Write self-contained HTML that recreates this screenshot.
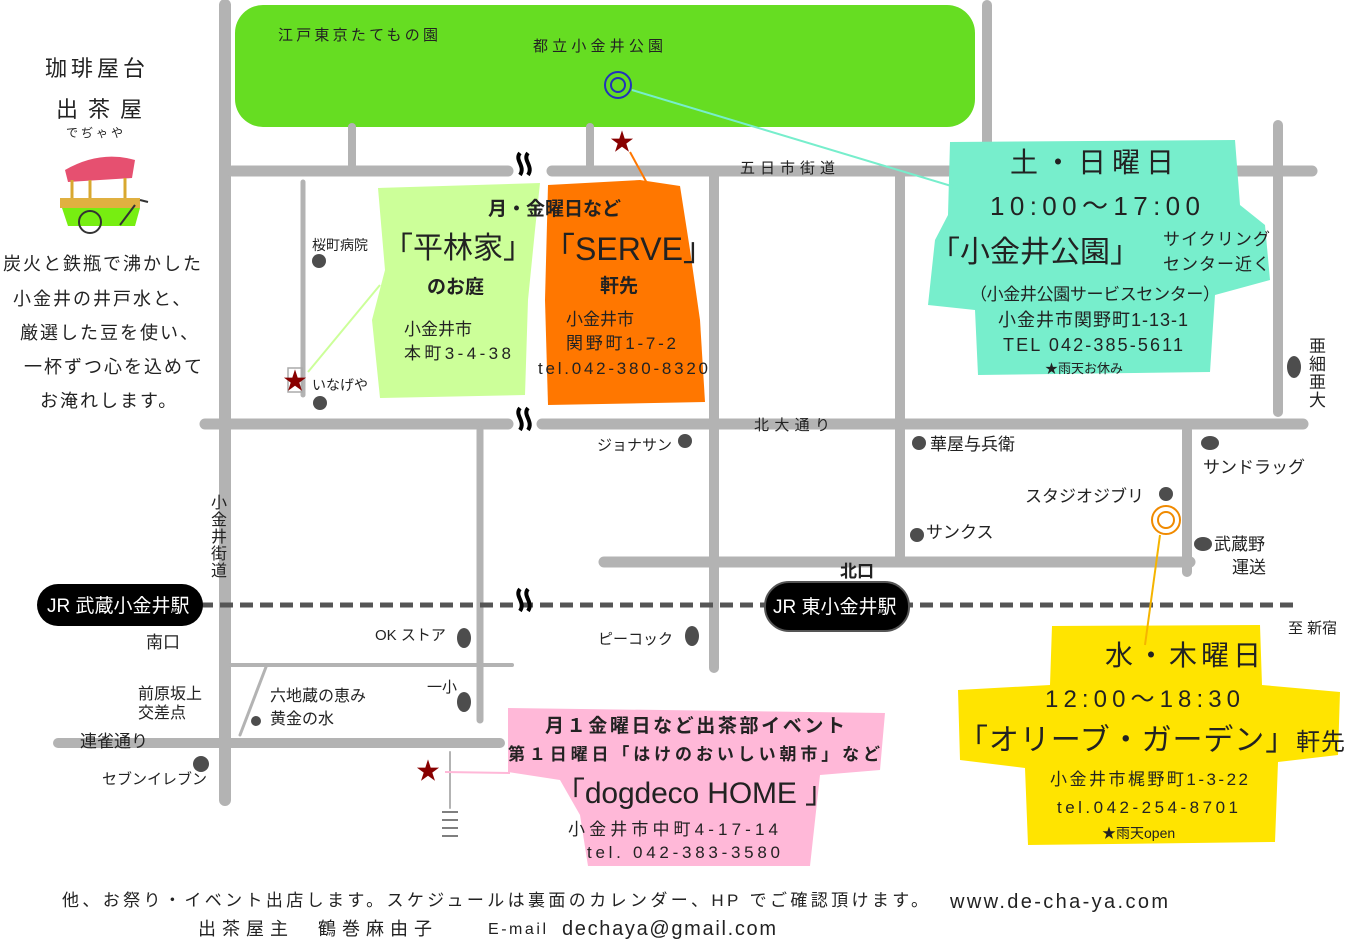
<!DOCTYPE html>
<html><head><meta charset="utf-8"><style>
html,body{margin:0;padding:0;background:#fff;}
svg{display:block;}
text{font-family:"Liberation Sans","Noto Sans CJK JP",sans-serif;fill:#222;}
</style></head><body>
<svg width="1346" height="948" viewBox="0 0 1346 948" xmlns="http://www.w3.org/2000/svg">
<rect x="235" y="5" width="740" height="122" rx="28" fill="#66dd22"/>
<g stroke="#b3b3b3" stroke-linecap="round" fill="none">
<path d="M225 5V800" stroke-width="12"/>
<path d="M987 5V170" stroke-width="10"/>
<path d="M352 127V165" stroke-width="8"/>
<path d="M590 127V165" stroke-width="8"/>
<path d="M232 171H508" stroke-width="11"/>
<path d="M552 171H1312" stroke-width="11"/>
<path d="M303 182V395" stroke-width="5"/>
<path d="M714 175V668" stroke-width="10"/>
<path d="M900 175V560" stroke-width="10"/>
<path d="M1278 125V412" stroke-width="10"/>
<path d="M205 424H508" stroke-width="11"/>
<path d="M542 424H1303" stroke-width="11"/>
<path d="M480 430V720" stroke-width="7"/>
<path d="M1187 430V572" stroke-width="10"/>
<path d="M604 562H1190" stroke-width="11"/>
<path d="M230 665H512" stroke-width="4"/>
<path d="M58 743H500" stroke-width="10"/>
<path d="M240 735L266 667" stroke-width="3"/>
<path d="M450 752V808" stroke-width="2"/>
</g>
<path d="M200 605H1300" stroke="#555" stroke-width="5" stroke-dasharray="13 7"/>
<g stroke="#000" stroke-width="4" fill="none">
<path d="M520 153c-6 7 6 13 0 22M528 153c-6 7 6 13 0 22"/>
<path d="M520 408c-6 7 6 13 0 22M528 408c-6 7 6 13 0 22"/>
<path d="M520 589c-6 7 6 13 0 22M528 589c-6 7 6 13 0 22"/>
</g>
<!-- blobs -->
<path d="M378 188L540 183L535 230L528 300L525 395L380 398L372 320L385 270Z" fill="#ccff99"/>
<path d="M548 185L640 180L680 186L690 250L700 320L705 402L548 405L545 300Z" fill="#ff7700"/>
<path d="M950 142L1235 140L1240 205L1265 225L1270 280L1215 295L1210 372L978 375L975 310L928 305L935 240L948 215Z" fill="#77eecc"/>
<path d="M1052 626L1260 625L1262 685L1340 692L1338 755L1278 762L1275 842L1028 845L1025 768L960 760L958 690L1050 685Z" fill="#ffe400"/>
<path d="M508 708L885 713L880 770L820 775L810 866L588 866L580 815L560 780L508 772Z" fill="#ffb8d8"/>
<!-- connectors -->
<path d="M308 372L380 285" stroke="#ccff99" stroke-width="2"/>
<path d="M630 152L648 185" stroke="#ff7700" stroke-width="2"/>
<path d="M632 90L958 188" stroke="#77eecc" stroke-width="2"/>
<path d="M1160 535L1145 645" stroke="#f5b400" stroke-width="2"/>
<path d="M445 772L510 773" stroke="#ffb8d8" stroke-width="2"/>
<circle cx="618" cy="85" r="13" fill="none" stroke="#2233bb" stroke-width="2"/>
<circle cx="618" cy="85" r="7" fill="none" stroke="#2233bb" stroke-width="2"/>
<circle cx="1166" cy="520" r="14" fill="none" stroke="#f08a00" stroke-width="2"/>
<circle cx="1166" cy="520" r="8" fill="none" stroke="#f08a00" stroke-width="2"/>
<rect x="288" y="368" width="14" height="24" fill="none" stroke="#aaa" stroke-width="1.5"/>
<g font-size="24">
<text x="283" y="389" style="fill:#880000">★</text>
<text x="610" y="150" style="fill:#880000">★</text>
<text x="416" y="779" style="fill:#880000">★</text>
</g>
<g stroke="#555" stroke-width="1.5"><path d="M442 812H458M442 820H458M442 828H458M442 836H458"/></g>
<!-- dots -->
<g fill="#4d4d4d">
<circle cx="319" cy="261" r="7"/><circle cx="320" cy="403" r="7"/>
<circle cx="685" cy="441" r="7"/><circle cx="919" cy="443" r="7"/>
<ellipse cx="1210" cy="443" rx="9" ry="7"/><circle cx="1166" cy="494" r="7"/>
<circle cx="917" cy="535" r="7"/><ellipse cx="1203" cy="544" rx="9" ry="7"/>
<ellipse cx="464" cy="638" rx="7" ry="10"/><ellipse cx="692" cy="636" rx="7" ry="10"/>
<ellipse cx="464" cy="702" rx="7" ry="10"/><circle cx="256" cy="721" r="5"/>
<circle cx="201" cy="764" r="8"/><ellipse cx="1294" cy="367" rx="7" ry="11"/>
</g>
<!-- stations -->
<rect x="37" y="584" width="166" height="42" rx="21" fill="#000"/>
<text x="47" y="612" font-size="19" style="fill:#fff">JR 武蔵小金井駅</text>
<rect x="765" y="582" width="144" height="49" rx="24" fill="#000" stroke="#555" stroke-width="2"/>
<text x="773" y="613" font-size="19" style="fill:#fff">JR 東小金井駅</text>
<text x="840" y="577" font-size="17" font-weight="bold">北口</text>
<!-- cart -->
<path d="M65 170Q100 150 135 160L132 178L68 182Z" fill="#e65070"/>
<g stroke="#d8a830" stroke-width="3"><path d="M72 180V205M90 180V205M125 178V205"/></g>
<rect x="60" y="198" width="80" height="10" fill="#e0b040"/>
<path d="M62 208H140L135 226H68Z" fill="#77ee11"/>
<circle cx="90" cy="222" r="11" fill="none" stroke="#333" stroke-width="2"/>
<path d="M140 200L148 202M120 225L135 205" stroke="#333" stroke-width="2"/>
<!-- left text -->
<text x="45" y="76" font-size="22" letter-spacing="4">珈琲屋台</text>
<text x="56" y="117" font-size="22" letter-spacing="10">出茶屋</text>
<text x="66" y="137" font-size="12" letter-spacing="3">でぢゃや</text>
<g font-size="18" letter-spacing="2">
<text x="3" y="270">炭火と鉄瓶で沸かした</text>
<text x="13" y="305">小金井の井戸水と、</text>
<text x="20" y="339">厳選した豆を使い、</text>
<text x="24" y="373">一杯ずつ心を込めて</text>
<text x="40" y="407">お淹れします。</text>
</g>
<!-- labels -->
<g font-size="15">
<text x="278" y="40" textLength="160" lengthAdjust="spacing">江戸東京たてもの園</text>
<text x="533" y="51" textLength="130" lengthAdjust="spacing">都立小金井公園</text>
<text x="740" y="173" textLength="95" lengthAdjust="spacing">五日市街道</text>
<text x="312" y="250" font-size="14">桜町病院</text>
<text x="312" y="390" font-size="14">いなげや</text>
<text x="597" y="450">ジョナサン</text>
<text x="754" y="430" textLength="76" lengthAdjust="spacing">北大通り</text>
<text x="930" y="450" font-size="17">華屋与兵衛</text>
<text x="1203" y="473" font-size="17">サンドラッグ</text>
<text x="1025" y="502" font-size="17">スタジオジブリ</text>
<text x="926" y="538" font-size="17">サンクス</text>
<text x="1214" y="550" font-size="17">武蔵野</text>
<text x="1232" y="573" font-size="17">運送</text>
<text x="375" y="640">OK ストア</text>
<text x="598" y="644">ピーコック</text>
<text x="146" y="648" font-size="17">南口</text>
<text x="1288" y="633">至 新宿</text>
<text x="427" y="692">一小</text>
<text x="270" y="701" font-size="16">六地蔵の恵み</text>
<text x="270" y="724" font-size="16">黄金の水</text>
<text x="138" y="699" font-size="16">前原坂上</text>
<text x="138" y="718" font-size="16">交差点</text>
<text x="80" y="747" font-size="17">連雀通り</text>
<text x="102" y="784">セブンイレブン</text>
</g>
<g font-size="16"><text x="211" y="508">小</text><text x="211" y="525">金</text><text x="211" y="542">井</text><text x="211" y="559">街</text><text x="211" y="576">道</text></g>
<g font-size="17"><text x="1309" y="352">亜</text><text x="1309" y="370">細</text><text x="1309" y="388">亜</text><text x="1309" y="406">大</text></g>
<!-- green blob text -->
<text x="383" y="258" font-size="30">「平林家」</text>
<text x="427" y="293" font-size="19" font-weight="bold">のお庭</text>
<text x="404" y="335" font-size="17">小金井市</text>
<text x="404" y="359" font-size="17" textLength="107" lengthAdjust="spacing">本町3-4-38</text>
<!-- orange -->
<text x="488" y="215" font-size="19" font-weight="bold">月・金曜日など</text>
<text x="543" y="260" font-size="32">「SERVE」</text>
<text x="600" y="292" font-size="19" font-weight="bold">軒先</text>
<text x="566" y="325" font-size="17">小金井市</text>
<text x="566" y="349" font-size="17" textLength="110" lengthAdjust="spacing">関野町1-7-2</text>
<text x="538" y="374" font-size="17" textLength="170" lengthAdjust="spacing">tel.042-380-8320</text>
<!-- aqua -->
<text x="1010" y="172" font-size="28" letter-spacing="6">土・日曜日</text>
<text x="990" y="215" font-size="26" textLength="210" lengthAdjust="spacing">10:00～17:00</text>
<text x="930" y="262" font-size="30">「小金井公園」</text>
<text x="1163" y="245" font-size="17" textLength="107" lengthAdjust="spacing">サイクリング</text>
<text x="1163" y="270" font-size="17" textLength="107" lengthAdjust="spacing">センター近く</text>
<text x="970" y="300" font-size="17" textLength="250" lengthAdjust="spacing">（小金井公園サービスセンター）</text>
<text x="998" y="326" font-size="18" textLength="190" lengthAdjust="spacing">小金井市関野町1-13-1</text>
<text x="1003" y="351" font-size="18" textLength="180" lengthAdjust="spacing">TEL 042-385-5611</text>
<text x="1045" y="373" font-size="13">★雨天お休み</text>
<!-- yellow -->
<text x="1105" y="665" font-size="28" letter-spacing="4">水・木曜日</text>
<text x="1045" y="707" font-size="24" textLength="195" lengthAdjust="spacing">12:00～18:30</text>
<text x="958" y="750" font-size="30" textLength="387" lengthAdjust="spacing">「オリーブ・ガーデン」<tspan font-size="24">軒先</tspan></text>
<text x="1050" y="785" font-size="17" textLength="198" lengthAdjust="spacing">小金井市梶野町1-3-22</text>
<text x="1057" y="813" font-size="17" textLength="181" lengthAdjust="spacing">tel.042-254-8701</text>
<text x="1102" y="838" font-size="14">★雨天open</text>
<!-- pink -->
<text x="545" y="732" font-size="19" font-weight="bold" textLength="300" lengthAdjust="spacing">月１金曜日など出茶部イベント</text>
<text x="508" y="760" font-size="17" font-weight="bold" textLength="372" lengthAdjust="spacing">第１日曜日「はけのおいしい朝市」など</text>
<text x="555" y="803" font-size="30" textLength="280" lengthAdjust="spacing">「dogdeco HOME 」</text>
<text x="568" y="835" font-size="17" textLength="210" lengthAdjust="spacing">小金井市中町4-17-14</text>
<text x="587" y="858" font-size="17" textLength="193" lengthAdjust="spacing">tel. 042-383-3580</text>
<!-- footer -->
<text x="62" y="906" font-size="17" textLength="866" lengthAdjust="spacing">他、お祭り・イベント出店します。スケジュールは裏面のカレンダー、HP でご確認頂けます。</text>
<text x="950" y="908" font-size="20" textLength="218" lengthAdjust="spacing">www.de-cha-ya.com</text>
<text x="198" y="935" font-size="18" textLength="234" lengthAdjust="spacing">出茶屋主　鶴巻麻由子</text>
<text x="488" y="934" font-size="16" textLength="58" lengthAdjust="spacing">E-mail</text>
<text x="562" y="935" font-size="20" textLength="214" lengthAdjust="spacing">dechaya@gmail.com</text>
</svg>
</body></html>
